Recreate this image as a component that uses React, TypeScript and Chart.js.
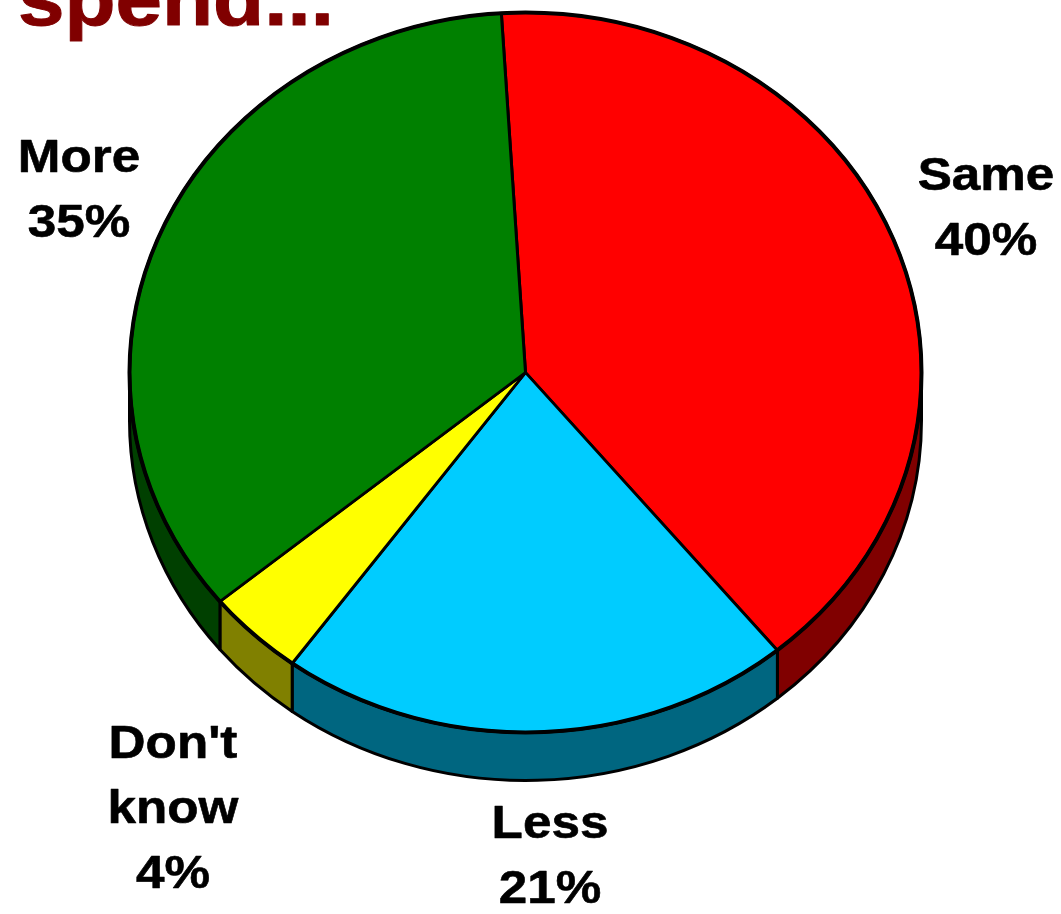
import React, { useEffect, useRef } from 'react';
import { Chart, registerables } from 'chart.js';

Chart.register(...registerables);

// ---- data ----
const categories: string[] = ['Same', 'Less', "Don't know", 'More'];
const values: number[] = [40, 21, 4, 35];
const topColors: string[] = ['#FF0000', '#00CCFF', '#FFFF00', '#008000'];
const sideColors: string[] = ['#800000', '#006680', '#808000', '#004000'];
const titleText = 'spend...';

// ---- layout ----
const W = 1061;
const H = 914;
const CENTER_X = 525.5;
const CENTER_Y = 372.5;
const RADIUS = 396;
const TILT = 360 / 396; // vertical squash of the top face
const DEPTH = 48;
const ROTATION = -3.5;
const LABEL_FONT = "bold 47px 'Liberation Sans', Arial, sans-serif";
const LABEL_SX = 1.09;
const LINE_GAP = 65;
// label anchor per category: [centre x, first baseline y]
const labelAnchors: [number, number][] = [
  [986, 190],
  [550, 838],
  [173, 758],
  [79, 172],
];

const pie3d = {
  id: 'pie3d',
  beforeDatasetsDraw(chart: any) {
    const ctx: CanvasRenderingContext2D = chart.ctx;
    const arcs: any[] = chart.getDatasetMeta(0).data;
    if (!arcs.length) return;
    const cx = arcs[0].x;
    const cy = arcs[0].y;
    const r = arcs[0].outerRadius;
    const ry = r * TILT;
    ctx.save();
    arcs.forEach((arc: any, i: number) => {
      const s = arc.startAngle;
      const e = arc.endAngle;
      for (const off of [-2 * Math.PI, 0, 2 * Math.PI]) {
        const a = Math.max(s, off);
        const b = Math.min(e, off + Math.PI);
        if (b > a) {
          ctx.beginPath();
          ctx.ellipse(cx, cy, r, ry, 0, a, b, false);
          ctx.lineTo(cx + r * Math.cos(b), cy + ry * Math.sin(b) + DEPTH);
          ctx.ellipse(cx, cy + DEPTH, r, ry, 0, b, a, true);
          ctx.closePath();
          ctx.fillStyle = sideColors[i];
          ctx.fill();
          ctx.lineWidth = 3;
          ctx.strokeStyle = '#000';
          ctx.lineJoin = 'round';
          ctx.stroke();
        }
      }
    });
    ctx.restore();
    ctx.save();
    ctx.translate(cx, cy);
    ctx.scale(1, TILT);
    ctx.translate(-cx, -cy);
  },
  afterDatasetsDraw(chart: any) {
    const ctx: CanvasRenderingContext2D = chart.ctx;
    ctx.restore();
    const arcs: any[] = chart.getDatasetMeta(0).data;
    if (!arcs.length) return;
    const cx = arcs[0].x;
    const cy = arcs[0].y;
    const r = arcs[0].outerRadius;
    ctx.save();
    ctx.beginPath();
    ctx.ellipse(cx, cy, r, r * TILT, 0, 0, Math.PI * 2);
    ctx.lineWidth = 4;
    ctx.strokeStyle = '#000';
    ctx.stroke();
    ctx.restore();
  },
  afterDraw(chart: any) {
    const ctx: CanvasRenderingContext2D = chart.ctx;
    ctx.save();
    ctx.lineJoin = 'round';
    // title (cut at top)
    ctx.fillStyle = '#800000';
    ctx.strokeStyle = '#800000';
    ctx.lineWidth = 1;
    ctx.font = "bold 76px 'Liberation Sans', Arial, sans-serif";
    ctx.textAlign = 'left';
    ctx.textBaseline = 'alphabetic';
    ctx.save();
    ctx.translate(18, 25);
    ctx.scale(1.1, 1);
    ctx.fillText(titleText, 0, 0);
    ctx.strokeText(titleText, 0, 0);
    ctx.restore();
    // labels
    ctx.fillStyle = '#000';
    ctx.strokeStyle = '#000';
    ctx.lineWidth = 0.6;
    ctx.font = LABEL_FONT;
    ctx.textAlign = 'center';
    categories.forEach((cat, i) => {
      const lines = [...cat.split(' '), `${values[i]}%`];
      const [x, y0] = labelAnchors[i];
      lines.forEach((ln, j) => {
        ctx.save();
        ctx.translate(x, y0 + j * LINE_GAP);
        ctx.scale(LABEL_SX, 1);
        ctx.fillText(ln, 0, 0);
        ctx.strokeText(ln, 0, 0);
        ctx.restore();
      });
    });
    ctx.restore();
  },
};

export default function App() {
  const ref = useRef<HTMLCanvasElement | null>(null);
  useEffect(() => {
    if (!ref.current) return;
    const chart = new Chart(ref.current, {
      type: 'pie',
      data: {
        labels: categories,
        datasets: [
          {
            data: values,
            backgroundColor: topColors,
            borderColor: '#000',
            borderWidth: 3,
            clip: false as any,
          },
        ],
      },
      options: {
        responsive: false,
        animation: false,
        events: [],
        radius: RADIUS,
        rotation: ROTATION,
        layout: {
          padding: {
            left: 0,
            top: 0,
            right: W - 2 * CENTER_X,
            bottom: H - 2 * CENTER_Y,
          },
        },
        plugins: {
          legend: { display: false },
          tooltip: { enabled: false },
          title: { display: false },
        },
      } as any,
      plugins: [pie3d],
    });
    return () => chart.destroy();
  }, []);
  return (
    <canvas
      ref={ref}
      width={W}
      height={H}
      style={{ position: 'fixed', left: 0, top: 0, width: W, height: H, display: 'block', background: '#fff' }}
    />
  );
}
